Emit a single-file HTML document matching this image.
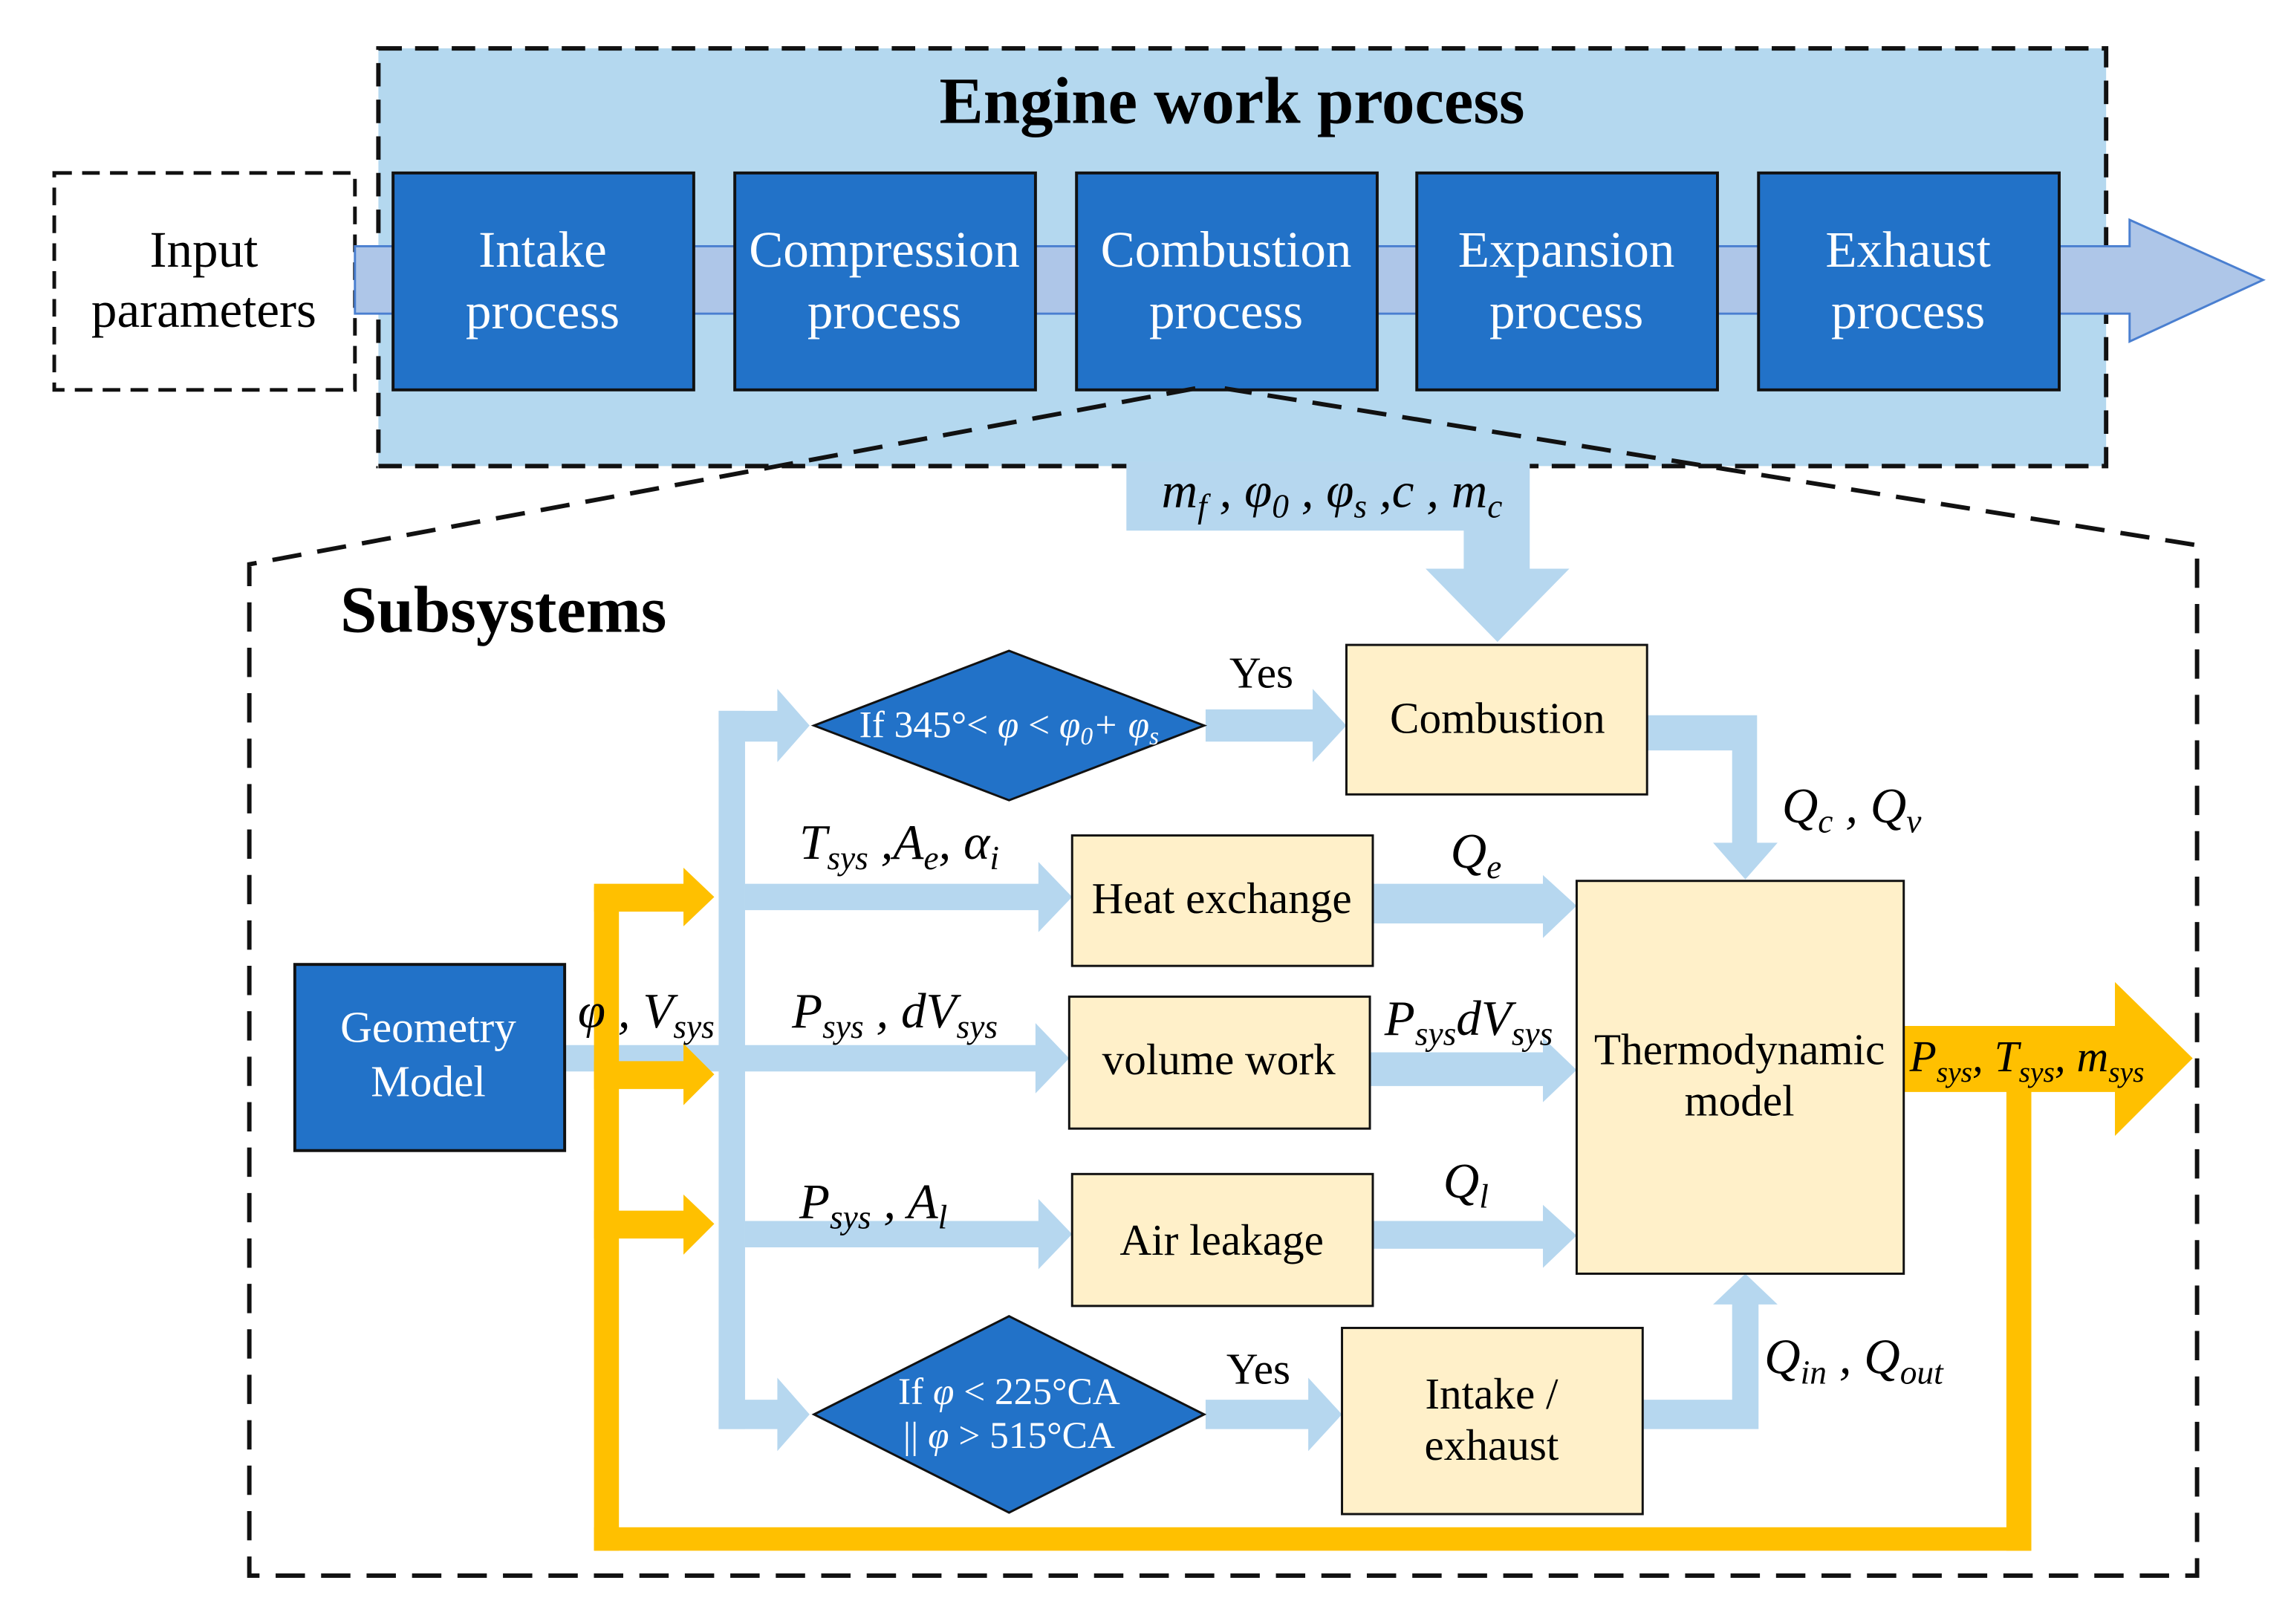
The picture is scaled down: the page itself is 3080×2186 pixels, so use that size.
<!DOCTYPE html>
<html><head><meta charset="utf-8"><style>html,body{margin:0;padding:0;background:#fff}svg{display:block}</style></head>
<body>
<svg width="3080" height="2186" viewBox="0 0 1560 1108" preserveAspectRatio="none" xmlns="http://www.w3.org/2000/svg" font-family="Liberation Serif, serif">
<rect x="258" y="33" width="1178" height="285" fill="#b4d8ef" stroke="#111" stroke-width="3" stroke-dasharray="16,9"/>
<text x="840" y="84" font-size="45" font-weight="bold" text-anchor="middle">Engine work process</text>
<rect x="37" y="118" width="205" height="148" fill="#fff" stroke="#111" stroke-width="2.5" stroke-dasharray="12,7"/>
<text x="139" y="182" font-size="35" text-anchor="middle">Input</text>
<text x="139" y="223" font-size="35" text-anchor="middle">parameters</text>
<polygon points="242,168 1452,168 1452,150 1543,191 1452,233 1452,214 242,214" fill="#aec6e8" stroke="#4a7fd0" stroke-width="1.5"/>
<g fill="#2272c8" stroke="#111" stroke-width="2">
<rect x="268" y="118" width="205" height="148"/>
<rect x="501" y="118" width="205" height="148"/>
<rect x="734" y="118" width="205" height="148"/>
<rect x="966" y="118" width="205" height="148"/>
<rect x="1199" y="118" width="205" height="148"/>
</g>
<g fill="#fff" font-size="35" text-anchor="middle">
<text x="370" y="182">Intake</text><text x="370" y="224">process</text>
<text x="603" y="182">Compression</text><text x="603" y="224">process</text>
<text x="836" y="182">Combustion</text><text x="836" y="224">process</text>
<text x="1068" y="182">Expansion</text><text x="1068" y="224">process</text>
<text x="1301" y="182">Exhaust</text><text x="1301" y="224">process</text>
</g>
<polyline points="815,265 170,385 170,1075 1498,1075 1498,372 835,265" fill="none" stroke="#111" stroke-width="3" stroke-dasharray="20,11"/>
<text x="232" y="431" font-size="45" font-weight="bold">Subsystems</text>
<g fill="#b6d7ef">
<polygon points="768,315 1043,315 1043,388 1070,388 1021,438 972,388 998,388 998,362 768,362"/>
<polygon points="822,484 895,484 895,470 918,495 895,520 895,506 822,506"/>
<polygon points="1123,488 1198,488 1198,575 1212,575 1190,600 1168,575 1181,575 1181,512 1123,512"/>
<rect x="490" y="485" width="18" height="490"/>
<polygon points="490,485 530,485 530,470 552,495 530,520 530,506 490,506"/>
<polygon points="490,955 530,955 530,940 552,965 530,990 530,975 490,975"/>
<polygon points="508,603 708,603 708,588 731,612 708,636 708,621 508,621"/>
<polygon points="385,713 706,713 706,698 729,722 706,746 706,731 385,731"/>
<polygon points="508,833 708,833 708,818 731,842 708,866 708,851 508,851"/>
<polygon points="936,603 1052,603 1052,597 1075,618 1052,640 1052,630 936,630"/>
<polygon points="934,718 1052,718 1052,708 1075,730 1052,752 1052,741 934,741"/>
<polygon points="936,833 1052,833 1052,822 1075,843 1052,865 1052,852 936,852"/>
<polygon points="822,955 892,955 892,940 915,965 892,990 892,975 822,975"/>
<polygon points="1120,955 1181,955 1181,890 1168,890 1190,869 1212,890 1199,890 1199,975 1120,975"/>
</g>
<g fill="#ffc000">
<rect x="405" y="605" width="17" height="453"/>
<rect x="405" y="1042" width="980" height="16"/>
<rect x="1368" y="740" width="17" height="318"/>
<polygon points="405,603 466,603 466,592 487,612 466,632 466,622 405,622"/>
<polygon points="405,724 466,724 466,712 487,733 466,754 466,743 405,743"/>
<polygon points="405,826 466,826 466,815 487,835 466,856 466,845 405,845"/>
<polygon points="1298,700 1442,700 1442,670 1495,722 1442,775 1442,745 1298,745"/>
</g>
<g fill="#fff0c9" stroke="#111" stroke-width="1.5">
<rect x="918" y="440" width="205" height="102"/>
<rect x="731" y="570" width="205" height="89"/>
<rect x="729" y="680" width="205" height="90"/>
<rect x="731" y="801" width="205" height="90"/>
<rect x="915" y="906" width="205" height="127"/>
<rect x="1075" y="601" width="223" height="268"/>
</g>
<rect x="201" y="658" width="184" height="127" fill="#2272c8" stroke="#111" stroke-width="2"/>
<polygon points="688,444 821,495 688,546 555,495" fill="#2272c8" stroke="#111" stroke-width="1.5"/>
<polygon points="688,898 821,965 688,1032 555,965" fill="#2272c8" stroke="#111" stroke-width="1.5"/>
<g font-size="30" text-anchor="middle">
<text x="1021" y="500">Combustion</text>
<text x="833" y="623">Heat exchange</text>
<text x="831" y="733">volume work</text>
<text x="833" y="856">Air leakage</text>
<text x="1017" y="961">Intake /</text>
<text x="1017" y="996">exhaust</text>
<text x="1186" y="726">Thermodynamic</text>
<text x="1186" y="761">model</text>
<text x="860" y="469">Yes</text>
<text x="858" y="944">Yes</text>
</g>
<g fill="#fff" text-anchor="middle">
<text x="292" y="711" font-size="30">Geometry</text>
<text x="292" y="748" font-size="30">Model</text>
<text x="688" y="503" font-size="26">If  345°&lt; <tspan font-style="italic">φ</tspan> &lt; <tspan font-style="italic">φ<tspan font-size="17" dy="5">0</tspan><tspan dy="-5">+ φ</tspan><tspan font-size="17" dy="5">s</tspan></tspan></text>
<text x="688" y="958" font-size="26">If   <tspan font-style="italic">φ</tspan> &lt; 225°CA</text>
<text x="688" y="988" font-size="26">|| <tspan font-style="italic">φ</tspan> &gt; 515°CA</text>
</g>
<g font-size="34" font-style="italic">
<text x="792" y="346">m<tspan font-size="23" dy="7">f</tspan><tspan dy="-7"> , φ</tspan><tspan font-size="23" dy="7">0</tspan><tspan dy="-7"> , φ</tspan><tspan font-size="23" dy="7">s</tspan><tspan dy="-7"> ,c , m</tspan><tspan font-size="23" dy="7">c</tspan></text>
<text x="1215" y="561">Q<tspan font-size="23" dy="7">c</tspan><tspan dy="-7"> , Q</tspan><tspan font-size="23" dy="7">v</tspan></text>
<text x="545" y="586">T<tspan font-size="23" dy="7">sys</tspan><tspan dy="-7"> ,A</tspan><tspan font-size="23" dy="7">e</tspan><tspan dy="-7">, α</tspan><tspan font-size="23" dy="7">i</tspan></text>
<text x="989" y="592">Q<tspan font-size="23" dy="7">e</tspan></text>
<text x="540" y="701">P<tspan font-size="23" dy="7">sys</tspan><tspan dy="-7"> , dV</tspan><tspan font-size="23" dy="7">sys</tspan></text>
<text x="394" y="701">φ , V<tspan font-size="23" dy="7">sys</tspan></text>
<text x="944" y="706">P<tspan font-size="23" dy="7">sys</tspan><tspan dy="-7">dV</tspan><tspan font-size="23" dy="7">sys</tspan></text>
<text x="545" y="831">P<tspan font-size="23" dy="7">sys</tspan><tspan dy="-7"> , A</tspan><tspan font-size="23" dy="7">l</tspan></text>
<text x="984" y="817">Q<tspan font-size="23" dy="7">l</tspan></text>
<text x="1203" y="937">Q<tspan font-size="23" dy="7">in</tspan><tspan dy="-7"> , Q</tspan><tspan font-size="23" dy="7">out</tspan></text>
<text x="1302" y="731" font-size="30">P<tspan font-size="20" dy="7">sys</tspan><tspan dy="-7">, T</tspan><tspan font-size="20" dy="7">sys</tspan><tspan dy="-7">, m</tspan><tspan font-size="20" dy="7">sys</tspan></text>
</g>
</svg>
</body></html>
